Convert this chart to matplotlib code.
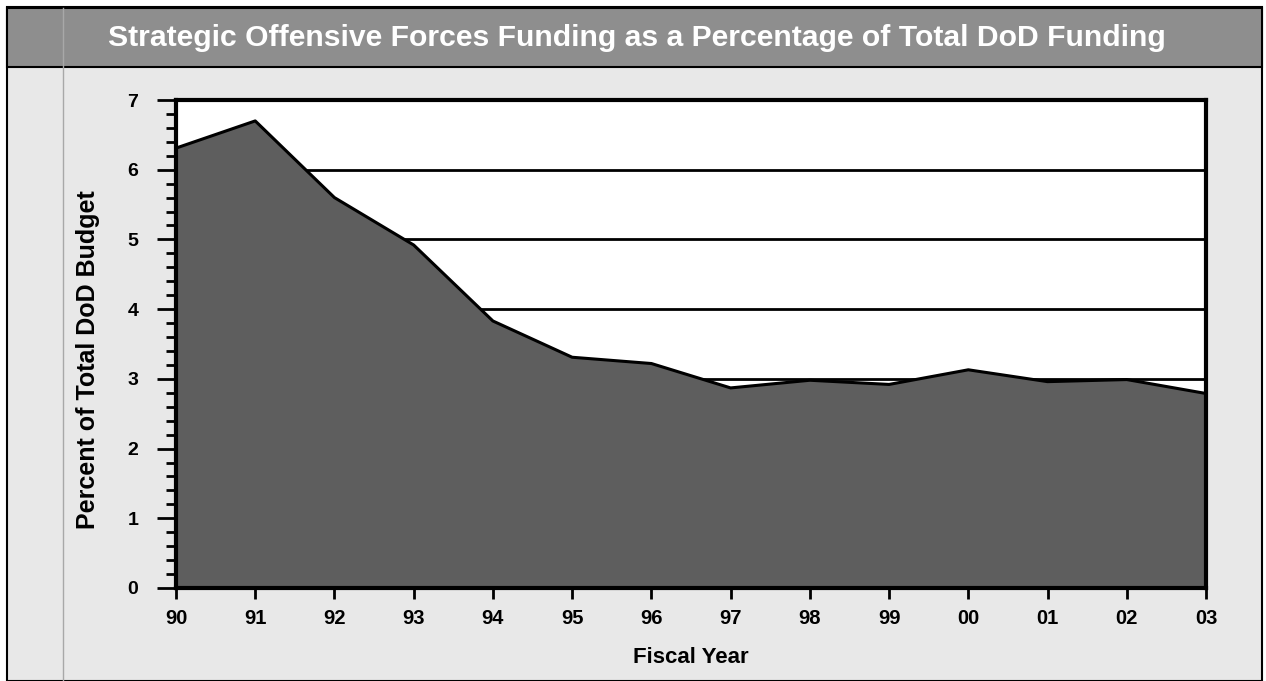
import matplotlib
matplotlib.use("Agg")
import matplotlib.pyplot as plt
from matplotlib.patches import Rectangle
from matplotlib.lines import Line2D
from matplotlib.ticker import MultipleLocator

plt.rcParams["font.family"] = ["Liberation Sans", "DejaVu Sans"]
plt.rcParams["font.weight"] = "bold"

# data
years = ["90", "91", "92", "93", "94", "95", "96", "97", "98", "99", "00", "01", "02", "03"]
percent = [6.31, 6.70, 5.60, 4.92, 3.83, 3.31, 3.22, 2.87, 2.98, 2.92, 3.13, 2.96, 2.99, 2.79]
grid_levels = [3, 4, 5, 6]

W, H = 1266, 681
fig = plt.figure(figsize=(W / 100, H / 100), dpi=100, facecolor="white")

def fx(px):
    return px / W

def fy(py):
    return 1 - py / H

# frame, header band and left stripe (kept behind the axes)
fig.patches.append(Rectangle((fx(7), 0), fx(1262) - fx(7), fy(7), transform=fig.transFigure,
                             facecolor="#e8e8e8", edgecolor="black", linewidth=1.5, zorder=-3))
fig.patches.append(Rectangle((fx(7), fy(67)), fx(1262) - fx(7), fy(8) - fy(67), transform=fig.transFigure,
                             facecolor="#8e8e8e", edgecolor="black", linewidth=1.5, zorder=-2))
fig.lines.append(Line2D([fx(63), fx(63)], [0, fy(8)], transform=fig.transFigure,
                        color="#a8a8a8", linewidth=1, zorder=-1))
fig.text(fx(637), fy(38), "Strategic Offensive Forces Funding as a Percentage of Total DoD Funding",
         color="white", fontsize=21.7, fontweight="bold", ha="center", va="center")

ax = fig.add_axes([fx(176), fy(588), fx(1206) - fx(176), fy(100) - fy(588)])
ax.set_facecolor("white")
x = list(range(len(years)))

for g in grid_levels:
    ax.axhline(g, color="black", linewidth=2, zorder=1)
ax.fill_between(x, percent, 0, color="#5e5e5e", zorder=2, linewidth=0)
ax.plot(x, percent, color="black", linewidth=2.2, zorder=3)

ax.set_xlim(0, len(years) - 1)
ax.set_ylim(0, 7)
ax.set_xticks(x)
ax.set_xticklabels(years)
ax.yaxis.set_major_locator(MultipleLocator(1))
ax.yaxis.set_minor_locator(MultipleLocator(0.2))

for s in ax.spines.values():
    s.set_linewidth(3)
    s.set_zorder(5)

ax.tick_params(axis="y", which="major", direction="out", length=14, width=2, labelsize=14, pad=13)
ax.tick_params(axis="y", which="minor", direction="out", length=7, width=2)
ax.tick_params(axis="x", which="major", direction="out", length=8, width=2, labelsize=14.5, pad=7)
for lab in ax.get_xticklabels() + ax.get_yticklabels():
    lab.set_fontweight("bold")

ax.set_ylabel("Percent of Total DoD Budget", fontsize=18, fontweight="bold", va="center")
ax.yaxis.set_label_coords(-0.0854, 0.467)
ax.set_xlabel("Fiscal Year", fontsize=16, fontweight="bold", labelpad=14)

fig.savefig("out.png", dpi=100, facecolor=fig.get_facecolor())
